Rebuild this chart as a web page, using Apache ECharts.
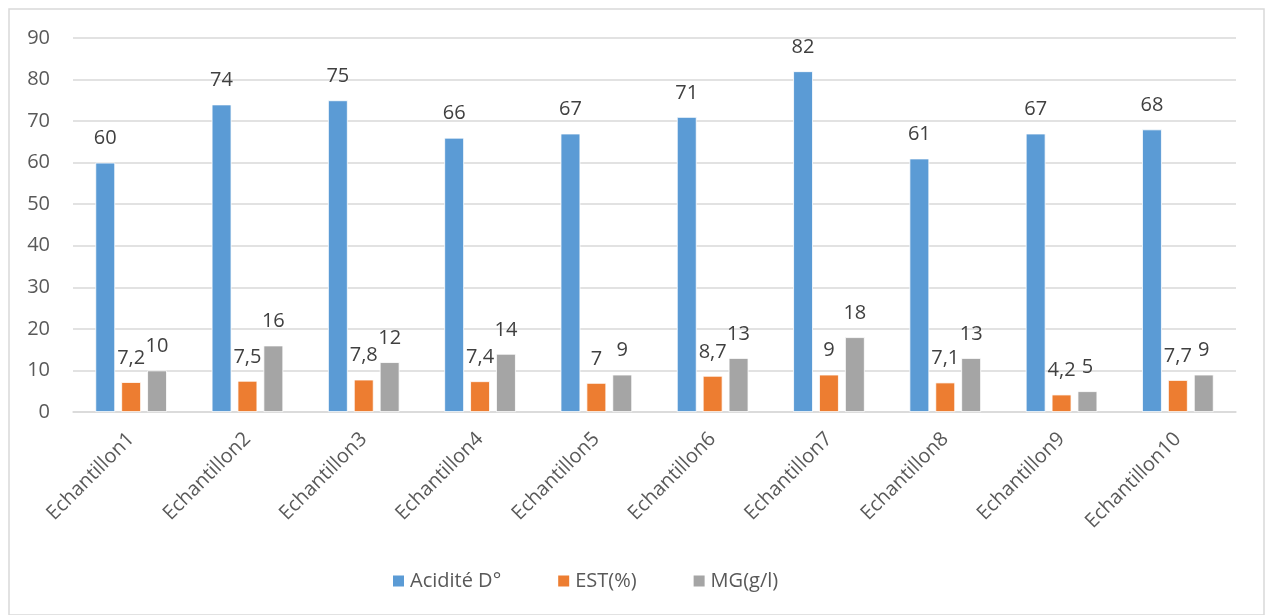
<!DOCTYPE html>
<html>
<head>
<meta charset="utf-8">
<script src="https://cdn.jsdelivr.net/npm/echarts@6/dist/echarts.min.js"></script>
<style>
  html, body { margin: 0; padding: 0; background: #fff; }
  #chart { width: 1266px; height: 615px; }
</style>
</head>
<body>
<div id="chart"></div>
<script>
// Sample categories and measured values
const categories = ['Echantillon1', 'Echantillon2', 'Echantillon3', 'Echantillon4', 'Echantillon5',
                    'Echantillon6', 'Echantillon7', 'Echantillon8', 'Echantillon9', 'Echantillon10'];
const acidite = [60, 74, 75, 66, 67, 71, 82, 61, 67, 68];
const est = [7.2, 7.5, 7.8, 7.4, 7, 8.7, 9, 7.1, 4.2, 7.7];
const mg = [10, 16, 12, 14, 9, 13, 18, 13, 5, 9];
const seriesNames = ['Acidité D°', 'EST(%)', 'MG(g/l)'];
const seriesColors = ['#5B9BD5', '#ED7D31', '#A5A5A5'];

const FONT = '"Open Sans", "Liberation Sans", sans-serif';
const FS = 20;

// Decimal comma for labels
const fmt = p => String(p.value).replace('.', ',');

function barSeries(name, data, color) {
  return {
    name: name,
    type: 'bar',
    data: data,
    barWidth: '17%',
    barGap: '31%',
    itemStyle: { color: color, borderColor: '#ffffff', borderWidth: 0.8 },
    label: {
      show: true,
      position: 'top',
      distance: 14,
      formatter: fmt,
      color: '#404040',
      fontSize: FS,
      fontFamily: FONT
    }
  };
}

const chart = echarts.init(document.getElementById('chart'), null, { renderer: 'canvas' });
chart.setOption({
  animation: false,
  backgroundColor: '#ffffff',
  graphic: [{
    type: 'rect',
    shape: { x: 9, y: 9, width: 1255, height: 606 },
    style: { fill: 'none', stroke: '#D9D9D9', lineWidth: 1.5 },
    silent: true
  }],
  grid: { left: 73, right: 30, top: 38, bottom: 203, containLabel: false },
  legend: {
    top: 566,
    left: 386,
    itemWidth: 13,
    itemHeight: 13,
    itemGap: 55,
    icon: 'rect',
    textStyle: { color: '#595959', fontSize: FS, fontFamily: FONT },
    data: seriesNames
  },
  xAxis: {
    type: 'category',
    data: categories,
    axisLine: { lineStyle: { color: '#D9D9D9', width: 1.5 } },
    axisTick: { show: false },
    axisLabel: {
      rotate: 45,
      margin: 24,
      color: '#595959',
      fontSize: FS,
      fontFamily: FONT
    }
  },
  yAxis: {
    type: 'value',
    min: 0,
    max: 90,
    interval: 10,
    axisLine: { show: false },
    axisTick: { show: false },
    splitLine: { lineStyle: { color: '#D9D9D9', width: 1.5 } },
    axisLabel: { color: '#595959', fontSize: FS, fontFamily: FONT, margin: 23 }
  },
  series: [
    barSeries(seriesNames[0], acidite, seriesColors[0]),
    barSeries(seriesNames[1], est, seriesColors[1]),
    barSeries(seriesNames[2], mg, seriesColors[2])
  ]
});
</script>
</body>
</html>
